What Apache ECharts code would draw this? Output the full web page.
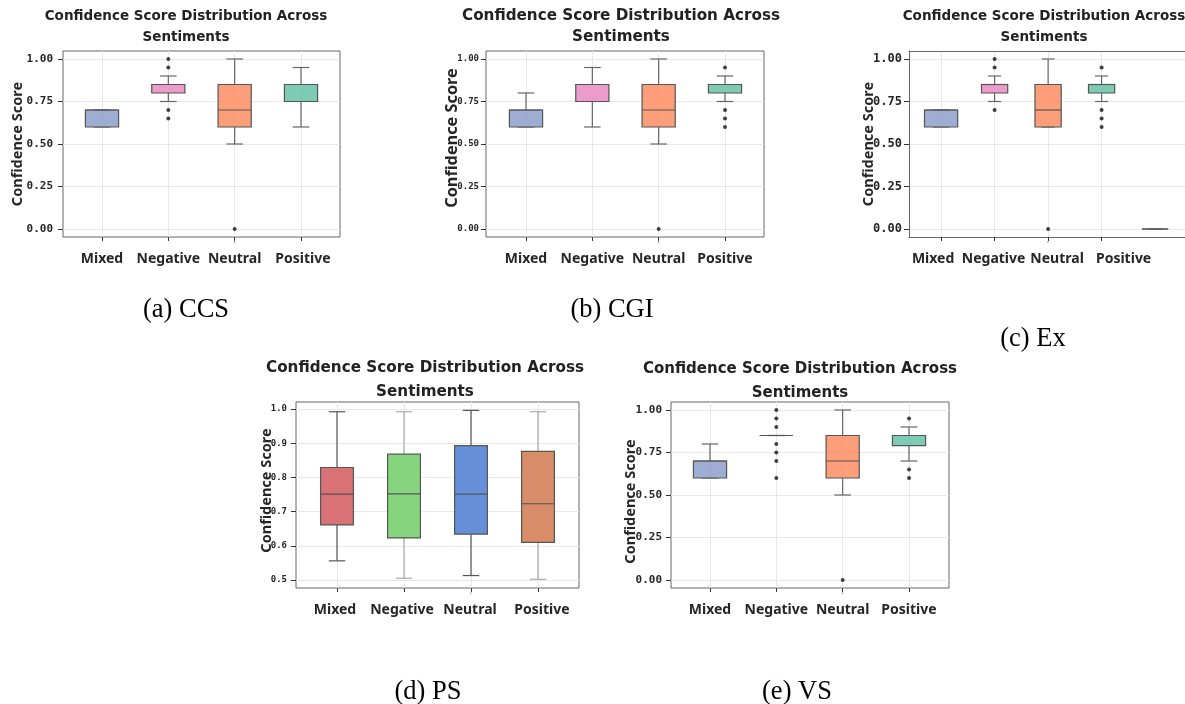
<!DOCTYPE html>
<html><head><meta charset="utf-8">
<script src="https://cdn.jsdelivr.net/npm/echarts@6/dist/echarts.min.js"></script>
<style>html,body{margin:0;padding:0;background:#fff}#c{width:1185px;height:704px}</style>
</head><body><div id="c"></div>
<script>
// ---------------- data ----------------
const categories = ['Mixed', 'Negative', 'Neutral', 'Positive'];
const exCategories = ['Mixed', 'Negative', 'Neutral', 'Positive', ''];
const chartTitle = 'Confidence Score Distribution Across\nSentiments';
const yName = 'Confidence Score';
const captions = ['(a) CCS', '(b) CGI', '(c) Ex', '(d) PS', '(e) VS'];
const ticksFull = [0, 0.25, 0.5, 0.75, 1.0];
const ticksPS = [0.5, 0.6, 0.7, 0.8, 0.9, 1.0];
// box stats per category: [min, Q1, median, Q3, max]
const ccsBoxes = [[0.6, 0.6, 0.7, 0.7, 0.7], [0.75, 0.8, 0.85, 0.85, 0.9], [0.5, 0.6, 0.7, 0.85, 1.0], [0.6, 0.75, 0.85, 0.85, 0.95]];
const ccsOutliers = [[1, 1.0], [1, 0.95], [1, 0.7], [1, 0.65], [2, 0.0]];
const cgiBoxes = [[0.6, 0.6, 0.7, 0.7, 0.8], [0.6, 0.75, 0.85, 0.85, 0.95], [0.5, 0.6, 0.7, 0.85, 1.0], [0.75, 0.8, 0.85, 0.85, 0.9]];
const cgiOutliers = [[2, 0.0], [3, 0.95], [3, 0.7], [3, 0.65], [3, 0.6]];
const exBoxes = [[0.6, 0.6, 0.7, 0.7, 0.7], [0.75, 0.8, 0.85, 0.85, 0.9], [0.6, 0.6, 0.7, 0.85, 1.0], [0.75, 0.8, 0.85, 0.85, 0.9], [0, 0, 0, 0, 0]];
const exOutliers = [[1, 1.0], [1, 0.95], [1, 0.7], [2, 0.0], [3, 0.95], [3, 0.7], [3, 0.65], [3, 0.6]];
const psBoxes = [[0.556, 0.661, 0.751, 0.829, 0.992], [0.505, 0.623, 0.752, 0.868, 0.992], [0.513, 0.634, 0.751, 0.893, 0.996], [0.502, 0.610, 0.723, 0.876, 0.992]];
const psOutliers = [];
const vsBoxes = [[0.6, 0.6, 0.7, 0.7, 0.8], [0.85, 0.85, 0.85, 0.85, 0.85], [0.5, 0.6, 0.7, 0.85, 1.0], [0.7, 0.79, 0.85, 0.85, 0.9]];
const vsOutliers = [[1, 1.0], [1, 0.95], [1, 0.9], [1, 0.8], [1, 0.75], [1, 0.7], [1, 0.6], [2, 0.0], [3, 0.95], [3, 0.65], [3, 0.6]];

// ---------------- styles / layout ----------------
const set2 = ['rgba(141,160,203,0.85)', 'rgba(231,138,195,0.85)', 'rgba(252,141,98,0.85)', 'rgba(102,194,165,0.85)', 'rgba(150,150,150,0.85)'];
const psColors = ['#d87274', '#86d47e', '#668fda', '#d88c68'];
const panels = [
  { cats: categories, boxes: ccsBoxes, out: ccsOutliers, ticks: ticksFull, dec: 2, colors: set2, openRight: false,
    grid: [63, 51, 277, 186], x: [-0.588, 3.588], y: [-0.047, 1.047], bw: [0.5, 0.5, 0.5, 0.5],
    title: [186, 5.5, 13.5, 21], nameGap: 38, nameSize: 14.5, nameShift: 0, tickSize: 11, labMargin: 10, catSize: 14, catShift: [0, 0, 0, 2] },
  { cats: categories, boxes: cgiBoxes, out: cgiOutliers, ticks: ticksFull, dec: 2, colors: set2, openRight: false,
    grid: [486, 51, 278, 186], x: [-0.603, 3.588], y: [-0.047, 1.047], bw: [0.5, 0.5, 0.5, 0.5],
    title: [621, 5.5, 15.2, 21], nameGap: 26, nameSize: 16.3, nameShift: 6, tickSize: 9, labMargin: 7, catSize: 14, catShift: [0, 0, 0, 0] },
  { cats: exCategories, boxes: exBoxes, out: exOutliers, ticks: ticksFull, dec: 2, colors: set2, openRight: true,
    grid: [909, 51, 276, 186], x: [-0.6, 4.559], y: [-0.047, 1.047], bw: [0.62, 0.49, 0.49, 0.49, 0.49],
    title: [1044, 5.5, 13.5, 21], nameGap: 33, nameSize: 14.5, nameShift: 0, tickSize: 12, labMargin: 7, catSize: 14, catShift: [-8, -1, 9, 22] },
  { cats: categories, boxes: psBoxes, out: psOutliers, ticks: ticksPS, dec: 1, colors: psColors, openRight: false,
    grid: [296, 402, 283, 186], x: [-0.612, 3.612], y: [0.4766, 1.0205], bw: [0.49, 0.49, 0.49, 0.49],
    title: [425, 356, 15.2, 24], nameGap: 22, nameSize: 14.5, nameShift: 4.5, tickSize: 9, labMargin: 9, catSize: 14, catShift: [-2, -2, -1, 4] },
  { cats: categories, boxes: vsBoxes, out: vsOutliers, ticks: ticksFull, dec: 2, colors: set2, openRight: false,
    grid: [671, 402, 278, 186], x: [-0.588, 3.603], y: [-0.047, 1.047], bw: [0.5, 0.5, 0.5, 0.5],
    title: [800, 357, 15, 24], nameGap: 33, nameSize: 14.5, nameShift: -6.5, tickSize: 11, labMargin: 9, catSize: 14, catShift: [0, 0, 0, 0] }
];
const captionPos = [[186, 297], [612, 297], [1033, 326], [428, 679], [797, 679]];
const whiskerColors = [['#666', '#666', '#666', '#666', '#888'], ['#666', '#666', '#666', '#666'], ['#666', '#666', '#666', '#666', '#888'], ['#555', '#aaa', '#555', '#aaa'], ['#666', '#666', '#666', '#666']];
const FRAME = '#666';

const SANS = '"Noto Sans", "Open Sans", sans-serif';
const TITLE_FONT = '"DejaVu Sans", "Noto Sans", sans-serif';
const MONO = '"DejaVu Sans Mono", monospace';

function boxRenderer(p, wcol) {
  return function (params, api) {
    const i = api.value(0);
    const mn = api.value(1), q1 = api.value(2), md = api.value(3), q3 = api.value(4), mx = api.value(5);
    const cx = api.coord([i, md])[0];
    const w = api.size([p.bw[i], 0])[0];
    const Y = v => api.coord([i, v])[1];
    const cap = w / 4;
    const wl = { stroke: wcol[i], lineWidth: 1.2, fill: null };
    const bl = '#555';
    return {
      type: 'group', children: [
        { type: 'line', shape: { x1: cx, y1: Y(q3), x2: cx, y2: Y(mx) }, style: wl },
        { type: 'line', shape: { x1: cx - cap, y1: Y(mx), x2: cx + cap, y2: Y(mx) }, style: wl },
        { type: 'line', shape: { x1: cx, y1: Y(q1), x2: cx, y2: Y(mn) }, style: wl },
        { type: 'line', shape: { x1: cx - cap, y1: Y(mn), x2: cx + cap, y2: Y(mn) }, style: wl },
        { type: 'rect', shape: { x: cx - w / 2, y: Y(q3), width: w, height: Y(q1) - Y(q3) }, style: { fill: p.colors[i], stroke: bl, lineWidth: 1.2 } },
        { type: 'line', shape: { x1: cx - w / 2, y1: Y(md), x2: cx + w / 2, y2: Y(md) }, style: { stroke: bl, lineWidth: 1.2 } }
      ]
    };
  };
}

const option = { animation: false, backgroundColor: '#fff', title: [], grid: [], xAxis: [], yAxis: [], series: [] };
const extraAxes = [];

panels.forEach((p, k) => {
  const tickIdx = [0, 1, 2, 3];
  const pxPerUnit = p.grid[2] / (p.x[1] - p.x[0]);
  const labelPos = tickIdx.map(i => i + (p.catShift[i] || 0) / pxPerUnit);
  option.title.push({
    text: chartTitle, left: p.title[0], top: p.title[1], textAlign: 'center', padding: 0,
    textStyle: { fontFamily: TITLE_FONT, fontWeight: 'bold', fontSize: p.title[2], lineHeight: p.title[3], color: '#222' }
  });
  option.title.push({
    text: captions[k], left: captionPos[k][0], top: captionPos[k][1], textAlign: 'center', padding: 0,
    textStyle: { fontFamily: '"Liberation Serif", "Times New Roman", serif', fontWeight: 'normal', fontSize: 26.5, color: '#000' }
  });
  option.grid.push({
    left: p.grid[0], top: p.grid[1], width: p.grid[2], height: p.grid[3],
    show: true, borderColor: p.openRight ? 'transparent' : FRAME, borderWidth: p.openRight ? 0 : 1, backgroundColor: 'transparent'
  });
  const rich = {
    n: { fontFamily: SANS, fontWeight: 'bold', fontSize: p.catSize, lineHeight: 18, color: '#262626', align: 'center' }
  };
  tickIdx.forEach(i => {
    const s = p.catShift[i] || 0;
    rich['m' + i] = { fontSize: 9, lineHeight: 9, color: '#555', align: 'center', padding: s >= 0 ? [0, 2 * s, 0, 0] : [0, 0, 0, -2 * s] };
  });
  option.xAxis.push({
    gridIndex: k, type: 'value', min: p.x[0], max: p.x[1], position: 'bottom',
    axisLine: { show: p.openRight, onZero: false, lineStyle: { color: FRAME, width: 1 } },
    axisTick: { show: true, customValues: tickIdx, length: 4, lineStyle: { color: '#333' } },
    axisLabel: {
      customValues: labelPos, margin: 4, rich: rich, hideOverlap: false, showMinLabel: true, showMaxLabel: true,
      formatter: v => { const i = Math.round(v); return '{m' + i + '|' + (i === 2 ? '`' : ' ') + '}\n{n|' + p.cats[i] + '}'; }
    },
    splitLine: { show: true, lineStyle: { color: '#e8e8e8', width: 1 } }
  });
  if (p.openRight) {
    extraAxes.push({
      gridIndex: k, type: 'value', min: p.x[0], max: p.x[1], position: 'top',
      axisLine: { show: true, onZero: false, lineStyle: { color: FRAME, width: 1 } },
      axisTick: { show: false }, axisLabel: { show: false }, splitLine: { show: false }
    });
  }
  const ns = p.nameShift;
  option.yAxis.push({
    gridIndex: k, type: 'value', min: p.y[0], max: p.y[1], position: 'left',
    name: yName, nameLocation: 'middle', nameGap: p.nameGap, nameMoveOverlap: false,
    nameTextStyle: { fontFamily: SANS, fontWeight: 'bold', fontSize: p.nameSize, color: '#262626', padding: ns >= 0 ? [0, 0, 0, 2 * ns] : [0, -2 * ns, 0, 0] },
    axisLine: { show: p.openRight, onZero: false, lineStyle: { color: FRAME, width: 1 } },
    axisTick: { show: true, customValues: p.ticks, length: 5, lineStyle: { color: '#333' } },
    axisLabel: { customValues: p.ticks, formatter: v => v.toFixed(p.dec), fontFamily: MONO, fontWeight: 'bold', fontSize: p.tickSize, color: '#262626', margin: p.labMargin, hideOverlap: false },
    splitLine: { show: true, lineStyle: { color: '#e8e8e8', width: 1 } }
  });
  option.series.push({
    type: 'custom', xAxisIndex: k, yAxisIndex: k, silent: true,
    renderItem: boxRenderer(p, whiskerColors[k]),
    encode: { x: 0, y: [1, 2, 3, 4, 5] },
    data: p.boxes.map((b, i) => [i].concat(b))
  });
  option.series.push({
    type: 'scatter', xAxisIndex: k, yAxisIndex: k, silent: true,
    symbolSize: 4, itemStyle: { color: '#111' },
    data: p.out
  });
});
option.xAxis = option.xAxis.concat(extraAxes);

const chart = echarts.init(document.getElementById('c'), null, { renderer: 'canvas' });
chart.setOption(option);
</script>
</body></html>
